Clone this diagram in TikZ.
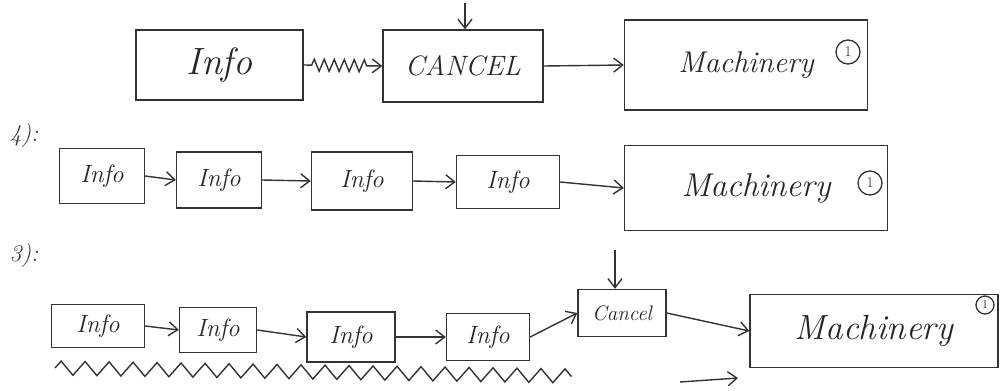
\documentclass[tikz,border=0pt]{standalone}
\usetikzlibrary{arrows.meta,decorations.pathmorphing}
\newcommand{\fs}[1]{\fontsize{#1}{#1}\selectfont\itshape}
\newcommand{\fu}[1]{\fontsize{#1}{#1}\selectfont\upshape}
\begin{document}
\begin{tikzpicture}[x=1pt,y=-1pt,
  ink/.style={draw=black!80,line width=1.4pt},
  box/.style={ink,rectangle,inner sep=0pt,text=black!85},
  arr/.style={ink,-{Straight Barb[length=9pt,width=14pt]}},
  num/.style={ink,circle,inner sep=0pt,minimum size=24pt,font=\fu{15},text=black!85,line width=1.3pt},
  lbl/.style={font=\fs{24},text=black!80}]
\useasboundingbox (0,0) rectangle (1002,391);
% row 1
\node[box,minimum width=167,minimum height=70,font=\fs{38}] (info1) at (219.5,65) {Info};
\node[box,minimum width=160,minimum height=72,font=\fs{28}] (cancel1) at (463,66) {CANCEL};
\node[box,minimum width=243,minimum height=90,font=\fs{30}] (mach1) at (746,65) {Machinery};
\node[num] (n1) at (848,52) {1};
\coordinate (ct1) at (465,3);
\draw[arr] (ct1) -- (ct1 |- cancel1.north);
\draw[arr,decorate,decoration={zigzag,amplitude=6pt,segment length=10pt,pre length=8pt,post length=14pt}] (info1.east) -- (cancel1.west);
\draw[arr] (cancel1.east) -- (mach1.west);
% label 4
\node[lbl] (l4) at (24,136) {4):};
% row 2
\node[box,minimum width=85,minimum height=55,font=\fs{25}] (i21) at (102,176) {Info};
\node[box,minimum width=85,minimum height=56,font=\fs{25}] (i22) at (219,180) {Info};
\node[box,minimum width=101,minimum height=58,font=\fs{25}] (i23) at (362,181) {Info};
\node[box,minimum width=103,minimum height=53,font=\fs{25}] (i24) at (508,182) {Info};
\node[box,minimum width=263,minimum height=85,font=\fs{33}] (mach2) at (756,188) {Machinery};
\node[num] (n2) at (870,183) {1};
\draw[arr] (i21.east) -- (i22.west);
\draw[arr] (i22.east) -- (i23.west);
\draw[arr] (i23.east) -- (i24.west);
\draw[arr] (i24.east) -- (mach2.west);
% label 3
\node[lbl] (l3) at (24,256) {3):};
% row 3
\node[box,minimum width=93,minimum height=43,font=\fs{25}] (i31) at (98,326) {Info};
\node[box,minimum width=77,minimum height=45,font=\fs{25}] (i32) at (218,330) {Info};
\node[box,minimum width=88,minimum height=50,font=\fs{25}] (i33) at (351,337) {Info};
\node[box,minimum width=83,minimum height=47,font=\fs{25}] (i34) at (488,337) {Info};
\node[box,minimum width=88,minimum height=47,font=\fs{21}] (cancel3) at (622,313) {Cancel};
\node[box,minimum width=248,minimum height=73,font=\fs{35}] (mach3) at (874,331) {Machinery};
\node[num,minimum size=18pt,font=\fu{12}] (n3) at (985,305) {1};
\coordinate (ct3) at (615,250);
\draw[arr] (ct3) -- (ct3 |- cancel3.north);
\draw[arr] (i31.east) -- (i32.west);
\draw[arr] (i32.east) -- (i33.west);
\draw[arr] (i33.east) -- (i34.west);
\draw[arr] (i34.east) -- (cancel3.west);
\draw[arr] (cancel3.east) -- (mach3.west);
\coordinate (w1) at (55,368);
\coordinate (w2) at (572,376);
\draw[ink,decorate,decoration={zigzag,amplitude=7pt,segment length=24pt}] (w1) -- (w2);
\coordinate (fa1) at (680,382);
\coordinate (fa2) at (738,378);
\draw[arr] (fa1) -- (fa2);
\end{tikzpicture}
\end{document}
